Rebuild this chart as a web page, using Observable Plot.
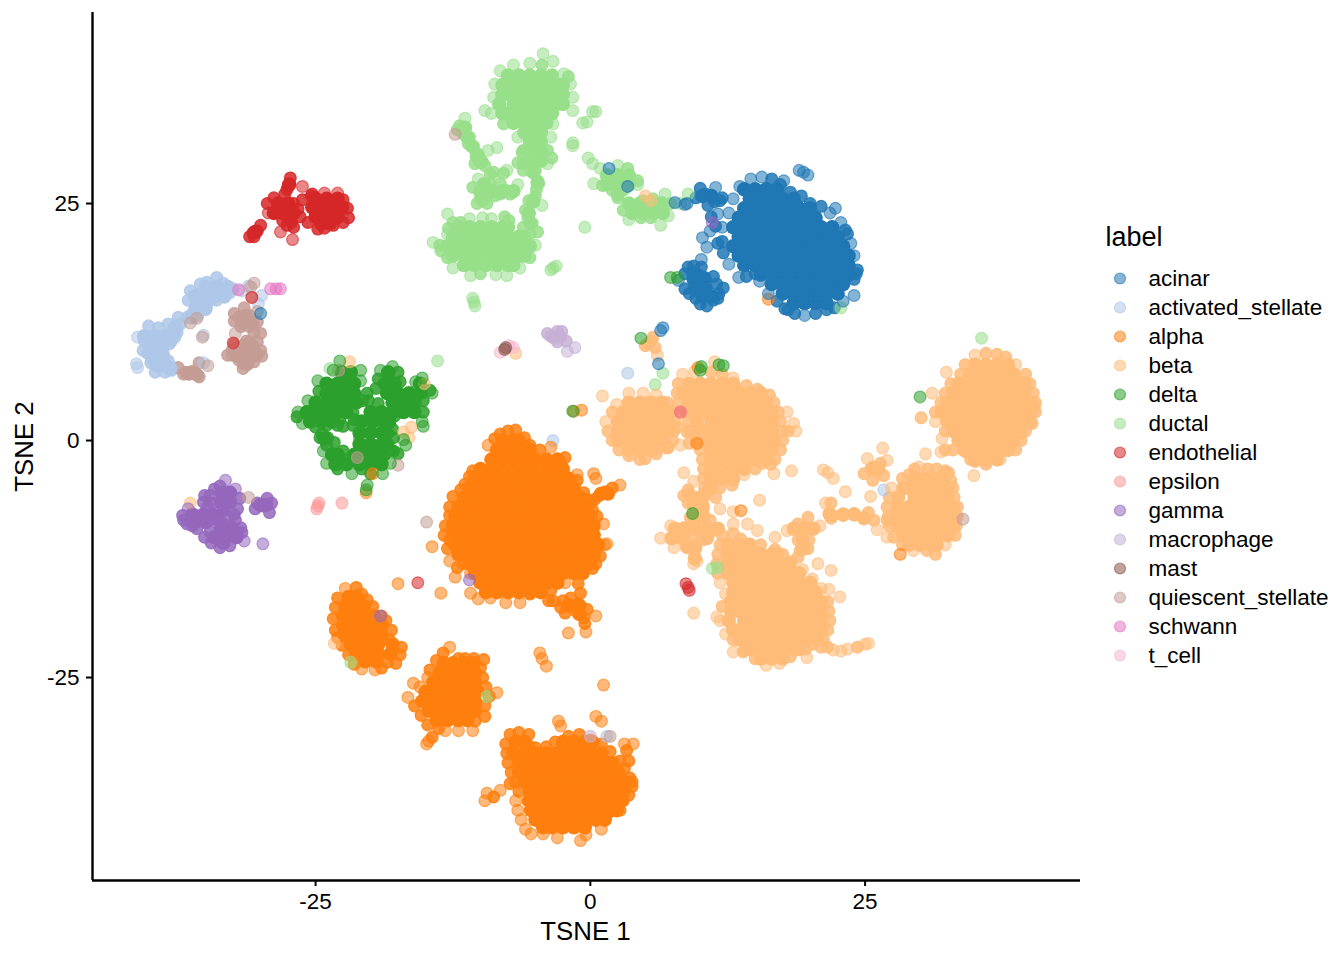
<!DOCTYPE html>
<html><head><meta charset="utf-8">
<script src="https://cdn.jsdelivr.net/npm/d3@7"></script>
<script src="https://cdn.jsdelivr.net/npm/@observablehq/plot@0.6"></script>
<style>body{margin:0;background:#fff}#wrap{position:relative;width:1344px;height:960px;font-family:"Liberation Sans",Arial,sans-serif}#legend{position:absolute;left:1090px;top:210px}svg{display:block;background:transparent}</style>
</head><body><div id="wrap"><div id="chart"></div><div id="legend"></div></div>
<script>
const labels=["acinar","activated_stellate","alpha","beta","delta","ductal","endothelial","epsilon","gamma","macrophage","mast","quiescent_stellate","schwann","t_cell"];
const colors=["#1f77b4","#aec7e8","#ff7f0e","#ffbb78","#2ca02c","#98df8a","#d62728","#ff9896","#9467bd","#c5b0d5","#8c564b","#c49c94","#e377c2","#f7b6d2"];
const xTicks=[-25,0,25], yTicks=[-25,0,25];

// Dense, fully overplotted regions: rows of [TSNE2, TSNE1, TSNE1, ...]
const acinar_dense=[
[26.5,14,15,16,17],[25.5,14.5,15.5,16.5,17.5,18.5],[24.5,14,15,16,17,18,19,20],
[23.5,13.5,14.5,15.5,16.5,17.5,18.5,19.5,20.5],[22.5,13,14,15,16,17,18,19,20,21,22],
[21.5,13.5,14.5,15.5,16.5,17.5,18.5,19.5,20.5,21.5,22.5],[20.5,13,14,15,16,17,18,19,20,21,22,23],
[19.5,13.5,14.5,15.5,16.5,17.5,18.5,19.5,20.5,21.5,22.5,23.5],[18.5,14,15,16,17,18,19,20,21,22,23,23.5],
[17.5,15.5,16.5,17.5,18.5,19.5,20.5,21.5,22.5,23.5],[16.5,16.5,17.5,18.5,19.5,20.5,21.5,22.5,23],
[15.5,17.5,18.5,19.5,20.5,21.5,22.5],[14.5,18.5,19.5,20.5,21.5],
[25.8,10.2,11],[17.5,9.4],[17,9.4,10.4],[16,9.5,10.5],[15.2,10.2,11]];
const alpha_dense=[
[0,-8,-7,-6.5],[-1,-8.5,-7.5,-6.5,-5.5],[-2,-9,-8,-7,-6,-5,-4,-3],[-3,-10,-9,-8,-7,-6,-5,-4,-3,-2.5],
[-4,-10.5,-9.5,-8.5,-7.5,-6.5,-5.5,-4.5,-3.5,-2.5,-2],[-5,-11,-10,-9,-8,-7,-6,-5,-4,-3,-2,-1.5],
[-6,-11.5,-10.5,-9.5,-8.5,-7.5,-6.5,-5.5,-4.5,-3.5,-2.5,-1.5,-1],[-7,-12,-11,-10,-9,-8,-7,-6,-5,-4,-3,-2,-1,-.5],
[-8,-12.3,-11.5,-10.5,-9.5,-8.5,-7.5,-6.5,-5.5,-4.5,-3.5,-2.5,-1.5,-.5,0],[-9,-12.5,-12,-11,-10,-9,-8,-7,-6,-5,-4,-3,-2,-1,0,.3],
[-10,-12.5,-11.5,-10.5,-9.5,-8.5,-7.5,-6.5,-5.5,-4.5,-3.5,-2.5,-1.5,-.5,.3],[-11,-12.3,-12,-11,-10,-9,-8,-7,-6,-5,-4,-3,-2,-1,0,.7],
[-12,-12,-11.5,-10.5,-9.5,-8.5,-7.5,-6.5,-5.5,-4.5,-3.5,-2.5,-1.5,-.5,.3],[-13,-11,-10,-9,-8,-7,-6,-5,-4,-3,-2,-1,0],
[-14,-10.5,-9.5,-8.5,-7.5,-6.5,-5.5,-4.5,-3.5,-2.5,-1.5,-.7],[-15,-10,-9,-8,-7,-6,-5,-4,-3],[-16,-9.5,-8.5,-7.5,-6.5,-5.5,-4.5],
[-5.6,1,1.6],[-17.4,-2,-1],[-18.3,-1],
// lower-left cluster
[-16.5,-22,-21.3],[-17.5,-22.3,-21.3,-20.6],[-18.5,-22.5,-21.5,-20.5,-19.7],[-19.5,-22.5,-21.5,-20.5,-19.5,-19],[-20.5,-22.3,-21.5,-20.5,-19.5,-19],[-21.5,-21.8,-21,-20,-19.3,-18],[-22.5,-21.3,-20.3,-19.3,-18.2],[-23.3,-20.5,-19.5],
// middle cluster
[-23.5,-13.3,-12.5,-11.5,-10.6],[-24.5,-13.7,-13,-12,-11,-10.5],[-25.5,-14.3,-13.5,-12.5,-11.5,-10.5],[-26.5,-15,-14,-13,-12,-11,-10.3],[-27.5,-15.3,-14.5,-13.5,-12.5,-11.5,-10.5],[-28.5,-14.7,-14,-13,-12,-11,-10.5],[-29.5,-14,-13,-12,-11.2],
// bottom cluster
[-31.8,-6.8,-6,-2.5,-1.5,-.5,.2],[-33,-7,-6,-5,-4,-3,-2,-1,0,1],[-34,-6.5,-5.5,-4.5,-3.5,-2.5,-1.5,-.5,.5,1.5,2],[-35,-6.5,-6,-5,-4,-3,-2,-1,0,1,2,2.5],
[-36,-6,-5.5,-4.5,-3.5,-2.5,-1.5,-.5,.5,1.5,2.5,3],[-37,-5.5,-5,-4,-3,-2,-1,0,1,2,3],[-38,-5.6,-4.5,-3.5,-2.5,-1.5,-.5,.5,1.5,2.5,2.8],
[-39,-5.4,-5,-4,-3,-2,-1,0,1,2,2.4],[-40,-5,-4.5,-3.5,-2.5,-1.5,-.5,.5,1.3],[-40.8,-4.3,-3.5,-2.5,-1.5,-.5]];
const beta_dense=[
[4,3.5,4.5,5.5,6.5],[3,3,4,5,6,7],[2,2.5,3.5,4.5,5.5,6.5,7],[1,2.5,3,4,5,6,7],[0,2.5,3.5,4.5,5.5,6.5],[-1,3.5,4.5,5.5],
[6,9,10,11,12,13],[5,8.5,9.5,10.5,11.5,12.5,13.5,14.5,15.5],[4,9,10,11,12,13,14,15,16],[3,9.5,10.5,11.5,12.5,13.5,14.5,15.5,16.5],
[2,9.7,11,12,13,14,15,16,16.5],[1,10,10.5,11.5,12.5,13.5,14.5,15.5,16.5],[0,10.5,11,12,13,14,15,16,16.7],[-1,11,11.5,12.5,13.5,14.5,15.5,16.5],
[-2,11,12,13,14,15,16],[-3,11,12,13,14],[-4,11,12,13],[-5,11],[-5.8,9,10.3],[-6.8,9.4,10.2],[-8,9.4,10.3],
[-9.3,7.7,8.7,9.6,10.6,11.6],[-10.3,7.4,8.4,10.6],[-11.2,8.8,9.5],[-12.4,9.5],
[-9.3,18.5,19.5,20.3],[-10.4,19.3],[-11.4,19.4],[-7.8,21.8,23,24],[-8.2,24.9],
[-3,25.6,26.2],
[-11,12.5,13.5,14.5],[-12,12.5,13.5,14.5,15.5,16.5,17],[-13,12.5,13,14,15,16,17,18],[-14,12.5,13.5,14.5,15.5,16.5,17.5,18.5,19],
[-15,13,14,15,16,17,18,19,20],[-16,13,13.5,14.5,15.5,16.5,17.5,18.5,19.5,20.5],[-17,12.8,14,15,16,17,18,19,20,21],
[-18,12.8,13.5,14.5,15.5,16.5,17.5,18.5,19.5,20.5,21],[-19,12.6,14,15,16,17,18,19,20,21],[-20,13,13.5,14.5,15.5,16.5,17.5,18.5,19.5,20.5,21],
[-21,13.6,14,15,16,17,18,19,20,20.6],[-22,14.5,15.5,16.5,17.5,18.5,19],[-23,15.5,16.5,17.5],
[-4,29.5,30.5,31.5,32],[-5,28.5,29,30,31,32,32.5],[-6,28,29.5,30.5,31.5,32.5],[-7,28,29,30,31,32,33],[-8,28,28.5,29.5,30.5,31.5,32.5],[-9,28,29,30,31,32,33],[-10,28.5,29.5,30.5,31.5,32.5],[-11,29,30,31,31.5],
[8,35,36,37,38],[7,34.5,35.5,36.5,37.5,38.5],[6,33.5,34,35,36,37,38,39,39.5],[5,33,33.5,34.5,35.5,36.5,37.5,38.5,39.5],[4,32.5,33,34,35,36,37,38,39,40],
[3,32,32.5,33.5,34.5,35.5,36.5,37.5,38.5,39.5,40],[2,32.5,33,34,35,36,37,38,39,39.5],[1,33,33.5,34.5,35.5,36.5,37.5,38.5,39],[0,33.5,34,35,36,37,38,38.5],[-1,34,34.5,35.5,36.5,37.5,38],[-2,35,36,37]];
const delta_dense=[
[7.2,-22.6,-21.8,-18.4],[6,-24,-23,-22,-21.5,-18.7,-17.8,-15.5],[5,-24,-23,-22,-21.5,-18.5,-17.5,-16.5,-15.5],[4,-25,-24,-23,-22,-21.3,-18,-17,-16],
[3,-25.8,-25,-24,-23,-22.2,-20,-19,-18,-17,-16],[2,-25.5,-24.5,-23.5,-20.8,-19.8,-18.8,-18.3],[.8,-21,-20,-19,-18.5],[-.4,-21,-20,-19,-18.5],[-1.5,-23.5,-23,-21.5,-20.5,-19.5,-18.8],[-2.5,-23.2,-22.2,-21,-20,-19],[.2,-24.2]];
const ductal_dense=[
[38.5,-7.5,-6.5,-5.5,-4.5,-3.5],[37.5,-8,-7,-6,-5,-4,-3,-2.5],[36.5,-8,-7.5,-6.5,-5.5,-4.5,-3.5,-2.5],[35.5,-8.3,-7,-6,-5,-4,-3,-2.5],[34.5,-8,-7.5,-6.5,-5.5,-4.5,-3.5],[33.5,-7,-6,-5,-4],[32.5,-6,-5,-4.5],[31.5,-5.5,-4.5],[30.5,-5.5,-4.5],[29.5,-5.5,-4.5],[28.3,-5.2],[27.2,-4.8],
[33,-11.4],[32,-11.2],[31,-10.7],[30,-10.3],[29.4,-9.9],[27,-9.7],[26.3,-10,-9,-8,-7],[25.4,-9.8],[25.2,-5.2],[24,-5.6],[22.9,-5.4],
[22.5,-12,-11,-10,-9,-8,-7.5],[21.5,-12.5,-11.5,-10.5,-9.5,-8.5,-7.5,-6.5,-6],[20.5,-13,-12,-11,-10,-9,-8,-7,-6,-5.5],[19.5,-12.5,-11.5,-10.5,-9.5,-8.5,-7.5,-6.5,-6],[18.5,-11.5,-10.5,-9.5,-8.5,-7.5,-7],
[28,1.5,2.5,3.5],[27,1.5,2.5,3.5],[26,2.5],[25,3.5,4.5,5.5,6.5],[24,3.8,4.8,5.8,6.6]];
const endothelial_dense=[[25.5,-25,-24,-23],[24.6,-25.3,-24.5,-23.5,-22.6],[23.6,-25,-24,-23],[22.9,-24.5,-23.7],[25,-28.4,-27.5],[24,-28.8,-28,-27],[23.3,-27.4],[27,-27.4],[22,-30.5]];
const activated_dense=[[16.2,-35,-34,-33],[15.2,-36,-35,-34.2,-33.3],[14,-35.8,-35],[13,-36.2],[12,-37.7],[11,-38.6,-39.6,-40.6],[10,-40,-39],[9,-39.7,-38.9],[8,-39.5,-38.7],[7.6,-38.2]];
const quiescent_dense=[[13,-31.6],[12.4,-31.6,-30.8],[10,-31.5,-30.8],[9,-32.2,-31.2,-30.4],[8.2,-31.2],[7.1,-36.6,-36]];
const gamma_dense=[[-5.5,-33.5,-32.8],[-6.5,-33.6,-32.8],[-7.3,-33.4],[-7.8,-36.2,-35.2,-34.4],[-8.6,-36,-35],[-9.2,-33.6,-32.6],[-10.2,-34.2,-33.2,-32.2],[-10.8,-33.4],[-6.8,-30,-29.5]];

// Individually visible points: TSNE1, TSNE2 pairs
const acinar_pts=[13.6,26.8,14.6,27.6,15.6,27.8,16.5,27.6,17.3,27,18.2,26.2,19.2,25.8,20,25,21,24.7,21.8,24,22.3,24.5,22.8,23,23.2,22.2,23.4,21.8,23.7,20.8,24,19.5,24.3,18,24,17,24.2,17.6,24,15.3,23,14.7,22.2,14,21.5,13.8,20.5,13.4,19.5,13.2,18.6,13.4,18,13.8,17,14.7,16.2,15.5,15.4,16.8,15,17.6,14.2,17.3,13.5,17.2,12.6,18.6,12.1,19.8,12,21,12,22.5,12.6,24,13,25.5,
10,26.6,9.6,25.6,10.5,26,11.3,25.2,12,25.6,11.4,26.7,11.8,25.3,10.7,24.8,8.8,25,8.6,24.9,19,28.5,19.4,28.3,19.8,28,17.6,27.4,10.2,21.4,10.6,20.4,11.6,20.8,11.6,23.9,10.9,22.1,11.4,22.6,10.1,19.1,10.1,18.3,11,23.6,
8.9,18.3,9.4,18.4,8.6,17.6,8,16.9,8.6,16,9,15.5,9.6,15,10,14.4,10.6,14.2,11.2,14.8,11.7,15.5,11.5,16.5,11.2,17.3,10.4,17.2,9.8,17.5,12.1,16.1,11.6,15,17.7,13.9,
1.7,28.7,3.4,26.8,7.7,25.1,6.2,8.1,6.6,11.9,6.4,11.6,-30,13.4];
const activated_pts=[-34,17.2,-34.9,16.7,-36.4,15.8,-36.6,14.8,-35.5,15.5,-34.3,16.2,-33.4,16.6,-32.5,16,-33.7,15.5,-34.6,14.8,-35.5,14.4,-35.7,13.2,-36.7,13,-37.3,12.3,-37.8,11.6,-38.1,10.5,-38.4,12.3,-39.3,11.9,-40.2,12.1,-40,10.9,-41.2,10.9,-40.7,9.5,-39.9,9.5,-39.2,8.8,-41.2,7.7,-41.3,8.1,-39.6,7.2,-38.7,7.2,-38.1,7.4,-38.4,8.4,-40,8.2,-37.6,11.4,-38.3,10.2,-31.1,16.3,-29.9,15.3,-30.2,14.4,-35.2,11.1,-35.2,8.2,
-40,9.9,-39,10,-39.5,9,-38.8,8.2,-40.6,10.5,-38.9,11,-37.5,13,-36,14,-35,14,-34,14.8,-35.5,16.5,-34.8,15.7,-33.5,15.9,-36,15.2,-35.8,14.6,-35,13.8,-36.3,13.3,-32.8,15.6,-33,16.2,-37.8,10.9,-39.5,10.5,-38.9,9.5,-39.9,8.6,-39.3,7.8,-38.4,7.6,-40.3,9.2,-37.9,11.9,-31.7,15.8,-3.4,0,
3.4,7.1,26.7,-5.2,1.5,-31.2];
const alpha_pts=[-8.2,.7,-6.8,1.1,-7.5,1,-9.3,-.5,-8.7,.2,-6,.3,-5.5,-.5,-4.6,-1,-3.6,-.7,-2.7,-2.3,-2.3,-1.8,-10.7,-3.2,-11,-3.8,-11.4,-4.6,-11.8,-5.2,-12.5,-5.9,-12.8,-7,-12.8,-7.9,-13.2,-9,-12.8,-10.5,-13.3,-10,-13,-11.4,-12.8,-12.7,-12.3,-14.4,-12.1,-13.4,-11.6,-13,-10.9,-14,-10.9,-16.1,-10.2,-16.7,-9.1,-16.6,-7.7,-17.1,-6.4,-17.1,-5.5,-16.2,-4.6,-15.8,-3.6,-15.8,-2.3,-15,-1.1,-15.1,.2,-13.5,.5,-13,.9,-12.2,1.3,-11,1.5,-10.9,1.2,-8.8,.6,-8,.2,-7.3,-.3,-6.2,-.6,-5.5,-1.2,-4.2,-1.2,-3.6,
.3,-3.5,.5,-4,2.7,-4.7,2,-5,1.4,-5.4,.8,-5.8,.4,-6.2,0,-6.6,-14.4,-11.2,-17.5,-15.1,-13.6,-16.1,-3.4,-16.9,-2.7,-17.6,-1.8,-16.6,-.9,-16.1,-1.4,-17.9,-.6,-18.7,.5,-18.5,-.3,-17.8,-2,-20.3,-.4,-20.2,-.5,-19.3,-2.5,-16.9,-1.1,-17.2,-3.8,-16.9,-2.3,-18.2,-4.6,-22.4,-4.4,-23,-4,-23.8,1.2,-25.8,
-22.3,-15.6,-21.3,-15.5,-20.8,-16.2,-23,-16.6,-23.2,-17.6,-23.4,-18.8,-23.2,-20,-23,-20.8,-22.6,-21.6,-22,-22.6,-21.5,-23.6,-20.8,-24.1,-19.6,-24.2,-19,-24,-18.5,-23.4,-17.7,-23.5,-17.3,-22.6,-17.2,-21.8,-18,-22,-18.3,-21,-18.1,-20,-18.6,-19,-19,-18.5,-19.8,-17.5,-20.3,-16.8,
-12.8,-21.8,-13.4,-22.4,-14,-23.2,-14.6,-24.2,-14.8,-25,-15.5,-26,-16.1,-25.6,-16.6,-27.1,-16,-28,-15.4,-29,-14.8,-30,-13.8,-30.4,-13.2,-30.6,-12,-30.6,-10.7,-30.6,-10.5,-29.6,-9.6,-29.1,-9.6,-28,-9.2,-27,-8.5,-26.6,-9.5,-26,-9.8,-25,-10,-24,-9.7,-23.1,-10.6,-23,-11.4,-23,-12,-23,-14.9,-32,-14.4,-31.3,-14.7,-31.7,
-7.3,-31,-6.5,-30.8,-5.6,-31,-7.7,-32,-7.6,-33,-7.5,-34,-7.2,-35,-6.8,-36,-6.5,-37,-6.8,-38,-6.6,-39,-6.3,-40,-5.9,-41,-5.4,-41.5,-4.3,-41.5,-3,-41.9,-.9,-42.2,-.4,-41.6,1,-41,1.4,-39.8,2.7,-39,3,-38,3.5,-37.4,3.8,-36.5,3.6,-35.6,3.1,-34.6,2.7,-33.8,1.8,-32.8,1,-32,0,-31.6,-1,-31,-2,-31.2,-3.2,-31.8,-4,-32.3,-5,-32.4,-5.6,-32.2,-2.7,-30.1,-2.9,-29.6,.5,-29.1,1,-29.6,3.3,-32.7,3.9,-32,3.1,-32,3.5,-33.8,3.8,-36,
-9.4,-37.2,-8.8,-37.6,-9.6,-38,-8.2,-36.9,-7.3,-36.2,
9.8,7.7,9.7,-.3,13.7,-7.4,28.2,-12,16.2,14.9,-19.8,-3.5,-20.4,-5.5,-1.5,3.1,-.8,3.2];
const beta_pts=[3.5,5,4.8,5,6,4.8,7,4,7.5,3,7.7,2,7.6,1,7.5,0,7,-.8,6,-1.4,4.5,-2,3.5,-1.6,2.6,-1,2,0,1.6,1,1.4,2,2,3,2.4,3.8,1.1,4.7,
8.4,7,9.5,7.3,11,7.2,12,7,13,6.6,14.2,5.8,15.2,5.4,16.3,4.8,16.7,4,17.1,3,17.3,2,17.5,1,17.5,0,17.3,-1,16.8,-2,15.6,-2.4,15,-3,14,-3.6,13,-4.2,12.2,-3.8,11.8,-5,8,6,7.9,5,8,4,8.7,3,8.9,2,9.1,1,9.6,0,10,-1,10.2,-2,10.3,-3,10.3,-4,10.4,-5,9.6,-6,11.4,-6,
17.9,3,18.5,1.8,18.7,1,18,1,16.4,-2.5,16.7,-3.5,18.3,-3.2,7.9,1.4,8.8,.9,8.2,-.5,7.1,-.7,9,-.3,6.1,-.9,5,-1.9,8.5,-3.4,9.4,-4.3,12.9,-4.7,15.4,-6.3,11.8,-7.2,13,-7.5,
8.5,-5.8,8.9,-6.6,10,-6,10.7,-5.3,10.3,-7.1,9.1,-8.1,10,-8.1,10.9,-8.4,9.5,-7.2,8.9,-5.2,
6.4,-10.3,7.3,-9,7.9,-9.5,7.5,-10.3,7.6,-11.3,8.5,-9.2,9.4,-9.2,10.3,-9.5,9.6,-11.4,9.4,-13,9.7,-12.7,8.8,-11.3,10.2,-10.5,8.4,-10.2,11,-9.6,9.3,-10.3,
12,-10,13,-9.8,13.7,-10.4,14.5,-11,15.5,-11,16.8,-11.5,17.5,-12,18.3,-12.8,19.3,-13.6,20.2,-14.6,21,-15.6,21.6,-17,21.7,-18,21.8,-19,21.6,-20,21.2,-21,20.2,-21.5,19.6,-22,18.2,-22.8,17.2,-23.5,16,-23.7,15,-23,14,-22.2,13,-21,12.3,-20.4,11.8,-19,11.5,-18.6,12,-17.5,12.3,-16.2,11.8,-15,11.6,-14,11.5,-13,11.6,-12,11.8,-11,
21,-21.8,22.1,-22.1,23.4,-22,24.3,-21.8,25,-21.5,25.3,-21.4,22.8,-22.2,21.6,-21.8,13,-22.3,13.9,-22.3,19.7,-22.9,9.4,-18.2,22.7,-16.5,21.9,-13.7,21.7,-15.7,20.7,-13,16.8,-10.2,15.2,-9.5,14.3,-8.8,13,-8.8,
17.9,-9.5,18.9,-8.8,19.8,-8.1,20.9,-9,20,-9.2,18.9,-10.5,19.8,-11.4,19.1,-11.6,18.9,-12.3,19.4,-9.5,19.9,-10.5,
21.4,-6.6,21.9,-6.6,21.7,-7.7,22.1,-7.9,23,-7.9,24,-7.7,24.9,-8.2,25.8,-8.4,26.1,-9.4,25.3,-7.6,21.9,-8.2,21.2,-3.1,22.1,-4,21.6,-3.4,23.2,-5.4,25.5,-5.9,27,-8.4,27,-10.2,
25.2,-1.9,24.9,-3.5,25.7,-2.8,26.4,-2.4,27,-2.1,26.7,-3.7,25.7,-4.2,26.1,-3.2,26.6,-.8,
29.5,-3,30.7,-3,29.9,-2.8,31.5,-3,32.3,-3.2,32.6,-3.4,32.8,-4.2,33,-5,33.1,-6,33.4,-7,33.4,-8,33.1,-8.2,33.3,-9,33.2,-10,32.3,-11,31.4,-12,30.6,-11.6,29.4,-11.6,28.4,-11,27.6,-10.2,27.2,-9,27.1,-8,27,-7,27.2,-6,27.4,-5,28.4,-4,29,-3.6,
35,9,36,9.2,37,9.1,37.8,8.8,38.7,8,39.6,7,40,6,40.3,5,40.5,4,40.5,3,40,2,39.6,1,39.2,0,38.7,-1,37.3,-2,36,-2.5,35,-2.2,34.6,-2,32.3,-1,32,.2,32.3,1,31.4,2,31.4,3,31.9,4,32.3,5,32.8,6,33.7,7,34.1,8,34.9,-3.7,30.5,-1.4,31.9,-1.2,33,-1,34.2,-1.2,40.4,3.5,40.2,1.8,39.2,.8,32.4,7.2,31.1,5,30.1,2.4,30.1,2.4,
5.5,10.5,5.9,9.8,6.1,9,5.3,10.2,5.7,10.9,5,10,-21.9,8.3,-15.1,6,-16.3,1.4,-16.5,.3,-17,.9,-6.8,9.2,5,25.8,5.5,25.3,-23.3,-21.4,-36.4,-6.6,11.3,8.3];
const delta_pts=[-22.8,8.4,-23.4,7.4,-20.9,7.4,-19.1,7.4,-18,7.8,-17.5,7.2,-24.8,6.3,-20.9,6.3,-19.3,6.5,-17.3,6.2,-15.9,6.2,-15.3,6.6,-14.6,5.3,-14.4,5,-24.7,5.2,-20.7,4.2,-25.7,4.2,-15.2,4.2,-26.6,3,-26.7,2.5,-21.6,2.9,-15.2,3,-15.3,2,-15.2,1.5,-26.2,1.8,-25,1.4,-24,1.6,-23,1.6,-22.8,2.2,-21.6,1.6,-21,.2,-18,1.2,-17.9,.3,-24.6,.3,-23.9,.3,-24.3,-1.1,-22.5,-1.1,-24,-2.4,-23,-3,-21.7,-3.5,-20.8,-3,-20,-3.5,-18.9,-3.5,-18.2,-2.4,-17.9,-1.1,-16.8,-.5,-17,.1,-20.3,-4.7,-20.4,-5.2,-22.5,1.5,
-17.5,-1.4,-18.2,-1,-21.5,2.2,-19.3,3.9,-20.2,4.2,-19.5,5.5,-20.3,5,-24,-.5,-23.3,-.2,-22.5,-2,-16.8,3.5,-17.8,2.6,-16.7,4.6,-24.4,.7,
4.6,10.8,12.1,7.9,11.7,8,10,7.4,10.1,7.8,30,4.6,9.3,-7.7,-1.6,3.1,7.9,17.2,7.3,17.2];
const ductal_pts=[-4.3,40.8,-3.4,40,-2.4,38.7,-2,38.4,.5,34.7,.2,34.7,-.7,33.5,-.3,33.6,-1.6,31.1,-1.6,31.4,-.2,29.8,.2,29.2,-8.2,39,-7,39.6,-5.5,39.8,-4.4,39.6,-8.7,37.6,-1.8,37.6,-8.8,36.2,-1.6,36.2,-9.6,34.8,-9,34.5,-1.6,34.8,-7.9,33.4,-3.4,33.4,-6.6,32,-3.6,32,-6.1,30.6,-3.9,30.6,-6.1,29.2,-3.9,29.2,
-11.4,34,-11.9,33.2,-11.6,32.4,-11,32,-10.7,31,-10.4,30,-10.1,29.4,-9.6,29,-10.5,29.2,-8.5,30.9,-9.3,30.6,-10.2,30.2,-11.1,31.3,-12.1,32.8,
-7.6,28.5,-7.9,28.2,-6.6,29.3,-8.8,28.3,-9.1,28.1,-10.2,27.6,-10.7,26.7,-9.8,26.4,-9.1,27.1,-10.3,25,-9.4,25.8,-8.2,27.1,-8.2,26,-7.3,26,-6.6,27,-9.4,25,-8.7,25.8,-10,26.2,-10,25.6,-7.7,26.4,
-5,25.8,-5.6,25.3,-4.4,24.8,-5.9,24.3,-5.7,23.5,-5.3,22.9,-4.8,22,-6.1,22.5,-4.8,27.4,-5,28.5,-4.7,27.1,-3.5,29.8,-6.2,30.4,-6.1,28.5,-4.9,26.5,
-12.5,23,-11,23.4,-9.8,23.5,-9,23.4,-7.8,23.6,-7.4,23.2,-13,21.8,-5.5,21.8,-13.7,20.6,-5,20.6,-13.6,20,-13,19.3,-5.5,19.3,-12.5,18.2,-6.4,18.2,-10.9,17.4,-10,17.6,-8.6,17.5,-7.6,17.4,-14.3,20.9,-13,23.9,-11.8,23,-12.9,22.4,-.5,22.5,-3.4,18.2,-3.1,18.4,-3.6,18,-10.7,15,-10.5,14.2,-10.6,14.6,
.3,27.1,.9,28.7,2.5,29,3.4,28.7,4.3,27.4,4.3,27,1.1,26.9,2,26.4,2.5,25.6,3,26.4,3.5,23.3,4.6,23.5,5.5,23.5,6.4,22.7,7.1,23.7,7.3,25,6.8,26,5.7,25.5,4.8,25.3,3,24.3,8.2,25,8.9,26,
-13.9,8.4,35.6,10.8,6.6,7.1,5.9,5.9,11.1,-13.5,11.6,-13.4,22.8,14,-23.7,7.6,-9.4,-27,-21.8,-23.4];
const endothelial_pts=[-27.3,27.7,-27.5,26.9,-27.6,26.5,-26.2,26.8,-25.3,26,-26.2,25.4,-31,21.5,-30.3,22.1,-30,22.7,-30.7,21.9,-30.6,21.5,-28.2,22,-27,22.5,-27.1,21.2,-25.7,23,-24.8,22.3,-23.4,22.7,-24.2,22.4,-25.4,25.8,-24.2,26.1,-23,26.1,-22.5,25.4,-22.1,24.5,-22,23.5,-22.5,23,-29.4,25,-29.3,24,-28.8,25.6,-27.8,26,-27,25,-26.6,24.4,-26.4,23.6,-27.2,23,-28,23.2,-27.6,22.7,
-32.5,10.3,-30.8,15.1,8.2,3,-15.7,-15,8.7,-15.1,8.9,-15.5,9,-15.8];
const epsilon_pts=[-24.7,-6.6,-24.9,-7.2,-24.8,-6.9,-22.6,-6.6,8.2,3];
const gamma_pts=[-33.2,-4.2,-34.2,-5.1,-35.1,-5.8,-35.2,-6.5,-32.3,-5.1,-31.9,-6.1,-32.1,-7.2,-37.1,-7.9,-36.6,-7.2,-36.7,-8.8,-35.8,-9.3,-34.6,-8.4,-35.1,-10.2,-33.7,-11.3,-32.8,-11.1,-31.5,-10.6,-31.7,-9.7,-32.3,-8.4,-33.4,-8.8,-30.3,-6.6,-30.5,-7.2,-29.8,-6.9,-29,-6.6,-29.4,-6.1,-29.2,-7.6,-29.8,-10.9,
-34.4,-6.6,-34,-8.4,-33,-8,-33.7,-4.8,-34.6,-5.8,-34.8,-7,-37,-8.4,-36.2,-9,-32.4,-7.8,-34.6,-9.6,-31.8,-9.2,-34.5,-10.8,-33.8,-8.4,
11.1,23,-11,-14.7,-19.1,-18.5];
const macrophage_pts=[-3.6,11,-3,11.5,-2.6,11.5,-2.7,10.9,-2.1,9.4,-1.4,9.8,-3.9,11.3,-3,10.4,-3.3,10.8,-2.2,10.5,.0,-31.2];
const mast_pts=[-7.7,9.8,-7.8,9.6];
const quiescent_pts=[-31.5,14,-32.4,13.4,-32.4,12.6,-31.8,12,-31,13.2,-30.3,13.6,-30.3,12.5,-31,12,-30.6,11.4,-31.4,13.2,-30,11.3,-31.5,12.8,-32,13,-32.3,11.3,-32.6,9.5,-31.6,8.1,-32.6,9,-33,9,-32,9.9,-31,10.4,-30.3,10.4,-30,9.5,-29.9,8.9,-30.6,8.3,-31.2,8,-31.6,7.6,-32,8.5,-31,9.2,-31.5,9.5,-30.5,9.3,-32,9,-31.3,10.5,-32.4,10.2,
-37.5,7.7,-37,7,-36.5,7,-36,7,-35.7,6.9,-35.6,6.7,-36.8,7.2,-36.2,7.3,-34.8,7.9,-35.6,8.2,-35.3,10.9,-36.4,12.4,-35.8,12.9,-30.8,15.1,-30.6,16.6,-30.9,16.2,-22.9,7.4,-17.5,-2.6,-14.9,-8.6,33.9,-8.3,-21.2,-1.8,-31.1,-6,-12.3,32.3,1.8,-31.2];
const schwann_pts=[-28.2,16,-29.1,16,-32,15.9,-28.6,16];
const tcell_pts=[-8.2,9.3,-7,9.8,-7.4,10];

const fromRows=(label,rows)=>rows.flatMap(([y,...xs])=>xs.map(x=>({label,x,y})));
const fromPairs=(label,flat)=>d3.range(0,flat.length-1,2).map(i=>({label,x:flat[i],y:flat[i+1]}));

const dense=[["activated_stellate",activated_dense],["quiescent_stellate",quiescent_dense],["acinar",acinar_dense],["alpha",alpha_dense],["beta",beta_dense],["delta",delta_dense],["ductal",ductal_dense],["endothelial",endothelial_dense],["gamma",gamma_dense]].flatMap(([l,r])=>fromRows(l,r));
const main=[["activated_stellate",activated_pts],["quiescent_stellate",quiescent_pts],["ductal",ductal_pts],["beta",beta_pts],["alpha",alpha_pts],["acinar",acinar_pts],["delta",delta_pts],["endothelial",endothelial_pts],["gamma",gamma_pts],["epsilon",epsilon_pts],["macrophage",macrophage_pts],["schwann",schwann_pts],["t_cell",tcell_pts],["mast",mast_pts]].flatMap(([l,f])=>fromPairs(l,f));

// Points with several same-label neighbours are overplotted in the source, so their alpha builds up.
const near=(a,b)=>a.label===b.label&&a!==b&&((a.x-b.x)*10.98)**2+((a.y-b.y)*9.48)**2<144;
const everyPoint=[...dense,...main];
const isCrowded=p=>everyPoint.filter(q=>near(p,q)).length>=3;
const crowded=main.filter(isCrowded);
const sparse=main.filter(p=>!isCrowded(p));

const FONT='"Liberation Sans",Arial,sans-serif';
const colorScale={domain:labels,range:colors};
const chart=Plot.plot({
  width:1344,height:960,marginLeft:92,marginRight:264,marginTop:12,marginBottom:80,
  style:{fontFamily:FONT,background:"transparent",color:"#000"},
  x:{domain:[-45.3,44.6],label:null},
  y:{domain:[-46.41,45.15],label:null},
  color:colorScale,
  marks:[
    Plot.dot(crowded,{x:"x",y:"y",fill:"label",stroke:"label",r:5.9,strokeWidth:1.2,fillOpacity:.85,strokeOpacity:.85}),
    Plot.dot(dense,{x:"x",y:"y",fill:"label",r:7.2,stroke:"none"}),
    Plot.dot(sparse,{x:"x",y:"y",fill:"label",stroke:"label",r:5.9,strokeWidth:1.2,fillOpacity:.55,strokeOpacity:.6}),
    Plot.ruleX([-45.3],{stroke:"#000",strokeWidth:2.4}),
    Plot.ruleY([-46.41],{stroke:"#000",strokeWidth:2.4}),
    Plot.axisX({ticks:xTicks,tickFormat:d=>String(d),tickSize:6,tickPadding:7,fontSize:22.5,label:null,stroke:"#000",strokeWidth:2,color:"#000"}),
    Plot.axisY({ticks:yTicks,tickFormat:d=>String(d),tickSize:6,tickPadding:7,fontSize:22.5,label:null,stroke:"#000",strokeWidth:2,color:"#000"}),
    Plot.text(["TSNE 1"],{frameAnchor:"bottom",dy:59,dx:-1,fontSize:25.8,fill:"#000"}),
    Plot.text(["TSNE 2"],{frameAnchor:"left",dx:-68,rotate:-90,textAnchor:"middle",fontSize:25.8,fill:"#000"})
  ]
});
document.getElementById("chart").appendChild(chart);

const legendPlot=Plot.plot({
  width:254,height:470,margin:0,
  style:{fontFamily:FONT,background:"transparent",color:"#000"},
  x:{domain:[0,254],range:[0,254],axis:null},
  y:{type:"point",domain:labels,range:[65,447],padding:0,axis:null},
  color:colorScale,
  marks:[
    Plot.dot(labels,{x:()=>29.5,y:d=>d,fill:d=>d,stroke:d=>d,r:5.5,strokeWidth:1.2,fillOpacity:.55,strokeOpacity:.6}),
    Plot.text(labels,{x:()=>58,y:d=>d,text:d=>d,textAnchor:"start",fontSize:22.5,fill:"#000"}),
    Plot.text(["label"],{x:()=>15,y:()=>"acinar",dy:-41,textAnchor:"start",fontSize:27,fill:"#000"})
  ]
});
document.getElementById("legend").appendChild(legendPlot);
</script></body></html>
